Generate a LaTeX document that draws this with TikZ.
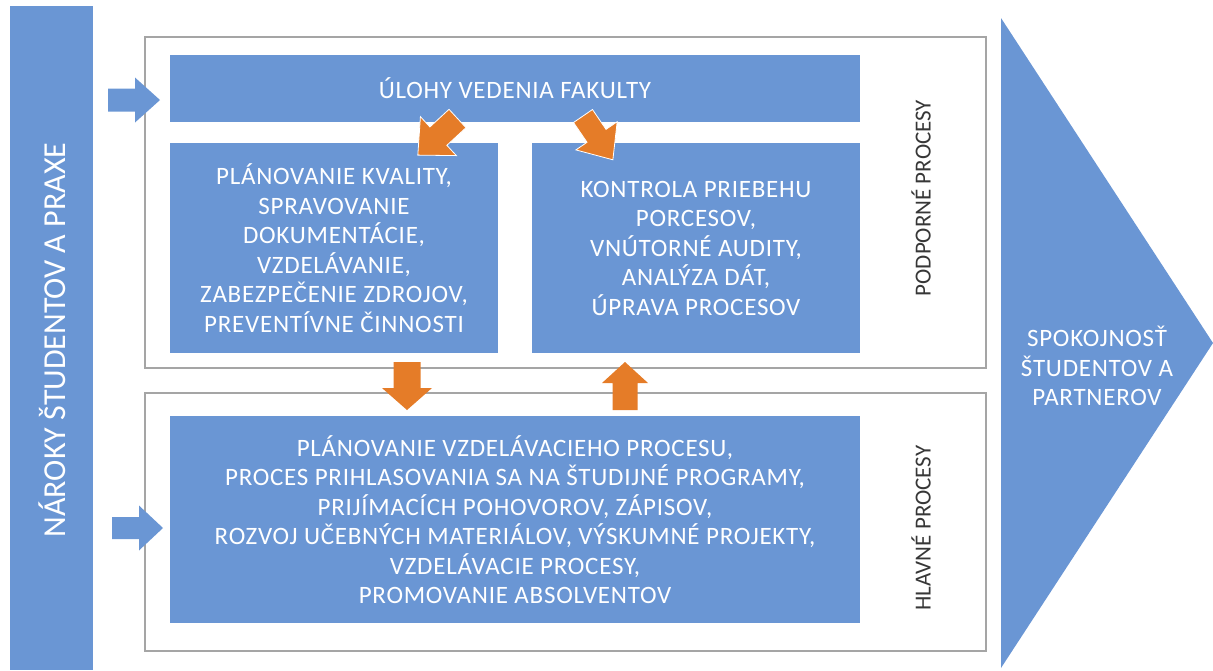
\documentclass[tikz,border=0pt]{standalone}
\usepackage{fontspec}
\setmainfont{Carlito}
\newfontfamily\boxfont[LetterSpace=3]{Carlito}
\definecolor{blu}{RGB}{106,150,212}
\definecolor{org}{RGB}{229,124,40}
\definecolor{frm}{RGB}{165,165,165}
\definecolor{lbl}{RGB}{55,55,55}
\tikzset{
  bluebox/.style={fill=blu, text=white, inner sep=0pt, align=center,
    font=\boxfont\fontsize{25}{29.5}\selectfont},
  framebox/.style={draw=frm, line width=1.3pt, fill=white, inner sep=0pt},
  sidelabel/.style={rotate=90, text=lbl, inner sep=0pt, font=\fontsize{23}{28}\selectfont},
  pics/barrow/.style n args={5}{code={
    \path[#5] (0,-#2/2) -- ({#1-#4},-#2/2) -- ({#1-#4},-#3/2) -- (#1,0)
      -- ({#1-#4},#3/2) -- ({#1-#4},#2/2) -- (0,#2/2) -- cycle;
  }},
}
\begin{document}
\begin{tikzpicture}[x=1pt,y=-1pt]
\useasboundingbox (0,0) rectangle (1213,670);
% left bar
\node[fill=blu, inner sep=0pt, minimum width=83, minimum height=664] (bar) at (51.5,338) {};
\node[rotate=90, text=white, inner sep=0pt, font=\fontsize{32}{38}\selectfont] (narok) at (52,340) {NÁROKY ŠTUDENTOV A PRAXE};
% frames
\node[framebox, minimum width=841, minimum height=331] (sup) at (565.5,202.5) {};
\node[framebox, minimum width=841, minimum height=258] (main) at (565.5,522) {};
% inner boxes
\node[bluebox, minimum width=690, minimum height=67] (uloha) at (515,88.5) {ÚLOHY VEDENIA FAKULTY};
\node[bluebox, minimum width=328, minimum height=210] (plan) at (334,248)
  {PLÁNOVANIE KVALITY,\\SPRAVOVANIE\\DOKUMENTÁCIE,\\VZDELÁVANIE,\\ZABEZPEČENIE ZDROJOV,\\PREVENTÍVNE ČINNOSTI};
\node[bluebox, minimum width=328, minimum height=210] (kontr) at (696,248)
  {KONTROLA PRIEBEHU\\PORCESOV,\\VNÚTORNÉ AUDITY,\\ANALÝZA DÁT,\\ÚPRAVA PROCESOV};
\node[bluebox, minimum width=690, minimum height=207] (hlav) at (515,519.5)
  {PLÁNOVANIE VZDELÁVACIEHO PROCESU,\\PROCES PRIHLASOVANIA SA NA ŠTUDIJNÉ PROGRAMY,\\PRIJÍMACÍCH POHOVOROV, ZÁPISOV,\\ROZVOJ UČEBNÝCH MATERIÁLOV, VÝSKUMNÉ PROJEKTY,\\VZDELÁVACIE PROCESY,\\PROMOVANIE ABSOLVENTOV};
% side labels
\node[sidelabel] (podp) at (921,198) {PODPORNÉ PROCESY};
\node[sidelabel] (hlp) at (921,528) {HLAVNÉ PROCESY};
% output chevron
\coordinate (t1) at (1001,18);
\coordinate (t2) at (1213,343);
\coordinate (t3) at (1001,668);
\fill[blu] (t1) -- (t2) -- (t3) -- cycle;
\node[text=white, align=center, inner sep=0pt, font=\boxfont\fontsize{25}{29.5}\selectfont] (spok) at (1097,366)
  {SPOKOJNOSŤ\\ŠTUDENTOV A\\PARTNEROV};
% block arrows
\pic at (108,100) {barrow={52}{23}{45}{25}{fill=blu}};
\pic at (112,528) {barrow={51}{22}{45}{24}{fill=blu}};
\pic[rotate=222.7] at (457.5,118.5) {barrow={54}{25}{53}{28}{fill=org, draw=white, line width=0.8pt}};
\pic[rotate=-55.7] at (583,116) {barrow={53}{23}{50}{29}{fill=org, draw=white, line width=0.8pt}};
\pic[rotate=-90] at (407,362) {barrow={48}{27}{50}{22}{fill=org}};
\pic[rotate=90] at (625,410) {barrow={48}{25}{46}{21}{fill=org}};
\end{tikzpicture}
\end{document}
